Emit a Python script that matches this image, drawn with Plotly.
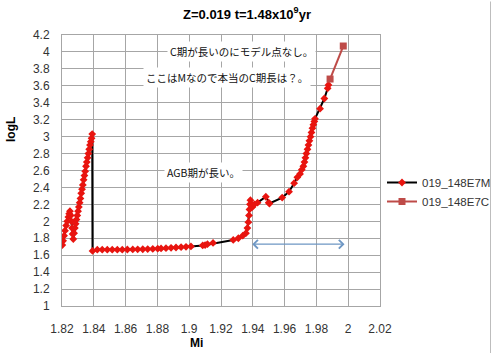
import plotly.graph_objects as go

# ---- data ----
m_mi = [1.8202, 1.8207, 1.8213, 1.8219, 1.8226, 1.8233, 1.8240, 1.8245, 1.8250,
        1.8255, 1.8259, 1.8263, 1.8267, 1.8271,
        1.8276, 1.8281, 1.8286, 1.8291, 1.8296, 1.8301, 1.8306, 1.8311, 1.8316, 1.8321,
        1.8326, 1.8331, 1.8336, 1.8341, 1.8346, 1.8351, 1.8356, 1.8361, 1.8366, 1.8371,
        1.8376, 1.8381, 1.8386, 1.8390,
        1.8392, 1.8422, 1.8453, 1.8485, 1.8516, 1.8548, 1.8579, 1.8611, 1.8645, 1.8676,
        1.8708, 1.8739, 1.8771, 1.8802, 1.8823, 1.8854, 1.8886, 1.8917, 1.8949, 1.8980,
        1.9011, 1.9085, 1.9100, 1.9115, 1.9150, 1.9277, 1.9309, 1.9337, 1.9357,
        1.9366, 1.9372, 1.9376, 1.9379, 1.9382, 1.9385, 1.9390, 1.9398, 1.9410, 1.9430,
        1.9482, 1.9500, 1.9505, 1.9585, 1.9628, 1.9660, 1.9680, 1.9697, 1.9708, 1.9718,
        1.9725, 1.9731, 1.9737, 1.9744, 1.9750, 1.9756, 1.9763, 1.9769, 1.9775, 1.9781,
        1.9787, 1.9791, 1.9823, 1.9850, 1.9871, 1.9876]
m_logl = [1.72, 1.77, 1.83, 1.89, 1.95, 2.00, 2.05, 2.09, 2.12,
          2.07, 2.00, 1.92, 1.85, 1.79,
          1.86, 1.92, 1.97, 2.02, 2.07, 2.12, 2.17, 2.22, 2.27, 2.33,
          2.38, 2.43, 2.49, 2.54, 2.59, 2.65, 2.70, 2.75, 2.80, 2.85,
          2.90, 2.94, 2.98, 3.03,
          1.65, 1.665, 1.665, 1.665, 1.665, 1.665, 1.665, 1.667, 1.668, 1.669,
          1.670, 1.672, 1.674, 1.677, 1.680, 1.683, 1.687, 1.691, 1.695, 1.699,
          1.704, 1.715, 1.72, 1.73, 1.745, 1.78, 1.80, 1.83, 1.86,
          1.92, 1.99, 2.07, 2.14, 2.20, 2.25, 2.20, 2.17, 2.20, 2.22,
          2.29, 2.22, 2.21, 2.28, 2.35, 2.45, 2.52, 2.56, 2.61, 2.65,
          2.70, 2.75, 2.80, 2.85, 2.90, 2.95, 3.00, 3.05, 3.10, 3.14,
          3.18, 3.21, 3.33, 3.45, 3.57, 3.61]

c_mi = [1.9886, 1.9969]
c_logl = [3.68, 4.07]

series_names = ["019_148E7M", "019_148E7C"]

x_ticks = [1.82, 1.84, 1.86, 1.88, 1.90, 1.92, 1.94, 1.96, 1.98, 2.00, 2.02]
x_tick_text = ["1.82", "1.84", "1.86", "1.88", "1.9", "1.92", "1.94", "1.96", "1.98", "2", "2.02"]
y_ticks = [1.0, 1.2, 1.4, 1.6, 1.8, 2.0, 2.2, 2.4, 2.6, 2.8, 3.0, 3.2, 3.4, 3.6, 3.8, 4.0, 4.2]
y_tick_text = ["1", "1.2", "1.4", "1.6", "1.8", "2", "2.2", "2.4", "2.6", "2.8", "3",
               "3.2", "3.4", "3.6", "3.8", "4", "4.2"]

title_text = "<b>Z=0.019 t=1.48x10<sup>9</sup>yr</b>"
note_c = "C期が長いのにモデル点なし。"
note_m = "ここはMなので本当のC期長は？。"
note_agb = "AGB期が長い。"

GRID = "#A6A6A6"
TXT = "#333333"
FONT = "Liberation Sans, Arial, sans-serif"
JFONT = "Noto Sans CJK JP, sans-serif"

fig = go.Figure()
fig.add_trace(go.Scatter(
    x=m_mi, y=m_logl, name=series_names[0], mode="lines+markers",
    line=dict(color="#000000", width=2),
    marker=dict(symbol="diamond", size=6, color="#E8140F", line=dict(width=0)),
))
fig.add_trace(go.Scatter(
    x=c_mi, y=c_logl, name=series_names[1], mode="lines+markers",
    line=dict(color="#BE4B48", width=2),
    marker=dict(symbol="square", size=7, color="#BE4B48", line=dict(width=0)),
))

fig.update_layout(
    width=500, height=354,
    margin=dict(l=62, r=120, t=35, b=48),
    paper_bgcolor="white", plot_bgcolor="white",
    font=dict(family=FONT, size=12, color=TXT),
    title=dict(text=title_text, x=0.494, xanchor="center", y=1 - 14 / 354, yanchor="middle",
               font=dict(family=FONT, size=13, color="#000000")),
    showlegend=True,
    legend=dict(xref="container", yref="container", x=382 / 500, xanchor="left",
                y=1 - 168 / 354, yanchor="top",
                font=dict(family=FONT, size=11.5, color=TXT),
                bgcolor="rgba(0,0,0,0)", tracegroupgap=0, itemwidth=30),
    xaxis=dict(range=[1.82, 2.02], tickvals=x_ticks, ticktext=x_tick_text,
               showgrid=True, gridcolor=GRID, gridwidth=1,
               showline=True, linecolor=GRID, linewidth=1, mirror=True,
               zeroline=False, ticks="", ticklabelstandoff=12, automargin=False,
               tickfont=dict(family=FONT, size=12, color=TXT)),
    yaxis=dict(range=[1.0, 4.2], tickvals=y_ticks, ticktext=y_tick_text,
               showgrid=True, gridcolor=GRID, gridwidth=1,
               showline=True, linecolor=GRID, linewidth=1, mirror=True,
               zeroline=False, ticks="", ticklabelstandoff=9, automargin=False,
               tickfont=dict(family=FONT, size=12, color=TXT)),
)

# axis titles
fig.add_annotation(text="<b>logL</b>", xref="paper", yref="paper",
                   x=(11 - 62) / 318, y=(306 - 130) / 271, xanchor="center", yanchor="middle",
                   showarrow=False, textangle=-90,
                   font=dict(family=FONT, size=12, color="#000000"))
fig.add_annotation(text="<b>Mi</b>", xref="paper", yref="paper",
                   x=(196 - 62) / 318, y=(306 - 343) / 271, xanchor="center", yanchor="middle",
                   showarrow=False,
                   font=dict(family=FONT, size=12, color="#000000"))

# text notes (white boxes)
for txt, xx, yy in [(note_c, 1.9326, 4.0), (note_m, 1.9238, 3.70), (note_agb, 1.9087, 2.58)]:
    fig.add_annotation(text=txt, x=xx, y=yy, xref="x", yref="y", showarrow=False,
                       bgcolor="white", borderpad=2,
                       font=dict(family=JFONT, size=10.5, color="#111111"))

# double-headed arrow
fig.add_annotation(x=1.9977, y=1.73, ax=1.9387, ay=1.73, xref="x", yref="y",
                   axref="x", ayref="y", text="", showarrow=True,
                   arrowhead=4, startarrowhead=4, arrowside="end+start",
                   arrowsize=1.4, startarrowsize=1.4, arrowwidth=1.2, arrowcolor="#6E97C4")

# outer frame line at right (drawn as an arrow-less annotation line)
fig.add_annotation(x=(490.5 - 62) / 318, y=(306 - 354) / 271, xref="paper", yref="paper",
                   ax=0, ay=-354, text="", showarrow=True, arrowhead=0, standoff=0,
                   arrowwidth=1, arrowcolor="#BDBDBD")

fig.write_html("out.html")
